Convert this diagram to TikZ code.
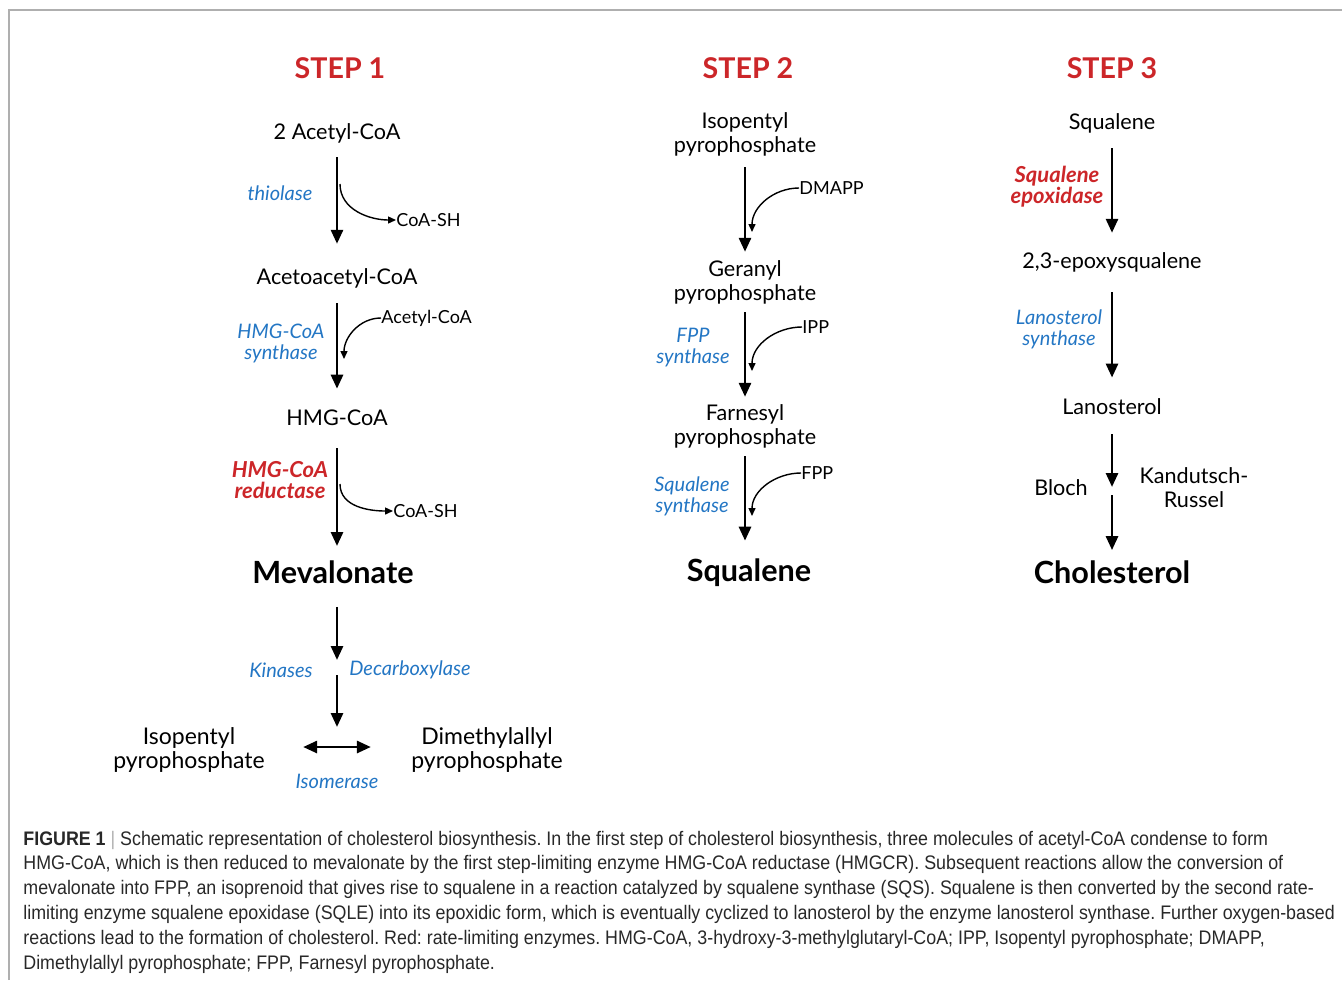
\documentclass[tikz,border=0pt]{standalone}
\usepackage{fontspec}
\setmainfont{Lato}
\newfontfamily\leyendafont[FakeStretch=0.91]{Liberation Sans}
\usepackage{tikz}
\usetikzlibrary{arrows.meta,positioning,calc}

\definecolor{pasored}{RGB}{204,38,41}
\definecolor{enzblue}{RGB}{35,118,196}
\definecolor{marco}{RGB}{175,175,175}
\definecolor{textoley}{RGB}{40,40,40}

\tikzset{
  paso/.style={font=\fontsize{14.3}{16}\selectfont\bfseries, text=pasored, inner sep=0pt},
  mol/.style={font=\fontsize{10.8}{12}\selectfont, align=center, inner sep=0pt},
  prod/.style={font=\fontsize{15.3}{17}\selectfont\bfseries, inner sep=0pt},
  enz/.style={font=\fontsize{10}{10.5}\selectfont\itshape, text=enzblue, align=center, inner sep=0pt},
  enzred/.style={enz, font=\fontsize{11}{10.5}\selectfont\bfseries\itshape, text=pasored},
  lado/.style={font=\fontsize{9}{10}\selectfont, inner sep=0pt},
  flecha/.style={line width=1.4pt, -{Triangle[length=7pt,width=6pt]}},
  lateral/.style={line width=0.7pt, -{Triangle[length=4pt,width=3.5pt]}},
  leyenda/.style={font=\leyendafont\fontsize{9.8}{11}\selectfont\frenchspacing, text=textoley, anchor=west, inner sep=0pt},
}

\begin{document}
\begin{tikzpicture}[x=0.5pt,y=-0.5pt]
    \useasboundingbox (0,0) rectangle (1342,980);
    % Marco de la figura
    \draw[marco, line width=0.8pt] (9,980) -- (9,10) -- (1342,10);

    % Títulos de los pasos
    \foreach \x/\n in {340/1,748/2,1112/3} {
        \node[paso] (paso\n) at (\x,68) {STEP \n};
    }

    % Paso 1: de acetil-CoA a mevalonato
    \node[mol] (acetil) at (337,133) {2 Acetyl-CoA};
    \node[mol] (acetoacetil) at (337,278) {Acetoacetyl-CoA};
    \node[mol] (hmgcoa) at (337,418) {HMG-CoA};
    \node[prod] (mevalonato) at (333,572) {Mevalonate};
    \node[enz] (tiolasa) at (280,193) {thiolase};
    \node[enz] (hmgsint) at (281,343) {HMG-CoA\\synthase};
    \node[enzred] (hmgred) at (280,480) {HMG-CoA\\reductase};
    \node[lado, anchor=west] (coash1) at (396,220) {CoA-SH};
    \node[lado, anchor=west] (acetilb) at (381,318) {Acetyl-CoA};
    \node[lado, anchor=west] (coash2) at (393,511) {CoA-SH};

    \draw[flecha, shorten <=7pt, shorten >=12pt] (acetil) -- (acetoacetil);
    \draw[flecha, shorten <=7.5pt, shorten >=10.5pt] (acetoacetil) -- (hmgcoa);
    \draw[flecha, shorten <=11pt, shorten >=13pt] (hmgcoa) -- (hmgcoa |- mevalonato);

    \coordinate (sal1) at (340,184);
    \coordinate (ent2) at (344,359);
    \coordinate (sal3) at (340,484);
    \draw[lateral] (sal1) to[out=-90,in=180] (coash1.west);
    \draw[lateral] (acetilb.west) to[out=180,in=90] (ent2);
    \draw[lateral] (sal3) to[out=-90,in=180] (coash2.west);

    % Mevalonato a IPP y DMAPP
    \coordinate (corte1) at (337,667);
    \coordinate (fin1) at (337,727);
    \node[enz] (quinasas) at (281,670) {Kinases};
    \node[enz] (descarb) at (410,670) {Decarboxylase};
    \draw[flecha, shorten <=11.5pt, shorten >=3.5pt] (mevalonato.south -| corte1) -- (corte1);
    \draw[flecha, shorten <=4pt] (corte1) -- (fin1);
    \node[mol, font=\fontsize{11.5}{12}\selectfont] (ipp) at (189,750) {Isopentyl\\pyrophosphate};
    \node[mol, font=\fontsize{11.5}{12}\selectfont] (dmapp) at (487,750) {Dimethylallyl\\pyrophosphate};
    \node[enz] (isomerasa) at (337,781) {Isomerase};
    \draw[line width=1.4pt, {Triangle[length=7pt,width=6pt]}-{Triangle[length=7pt,width=6pt]},
          shorten <=19pt, shorten >=20pt] ([yshift=1.5pt]ipp.east) -- ([yshift=1.5pt]dmapp.west);

    % Paso 2: de IPP a escualeno
    \node[mol] (ipp2) at (745,134) {Isopentyl\\pyrophosphate};
    \node[mol] (geranil) at (745,282) {Geranyl\\pyrophosphate};
    \node[mol] (farnesil) at (745,426) {Farnesyl\\pyrophosphate};
    \node[prod] (escualeno) at (749,573) {Squalene};
    \node[enz] (fppsint) at (693,348) {FPP\\synthase};
    \node[enz] (sqsint) at (692,496) {Squalene\\synthase};
    \node[lado, anchor=west] (dmappb) at (799,188) {DMAPP};
    \node[lado, anchor=west] (ippb) at (802,327) {IPP};
    \node[lado, anchor=west] (fppb) at (801,473) {FPP};

    \draw[flecha, shorten <=5.5pt, shorten >=4pt] (ipp2) -- (geranil);
    \draw[flecha, shorten <=4pt, shorten >=3.5pt] (geranil) -- (farnesil);
    \draw[flecha, shorten <=4pt, shorten >=9pt] (farnesil) -- (farnesil |- escualeno.north);

    \coordinate (ent4) at (752,232);
    \coordinate (ent5) at (752,371);
    \coordinate (ent6) at (752,516);
    \draw[lateral] (dmappb.west) to[out=180,in=90] (ent4);
    \draw[lateral] (ippb.west) to[out=180,in=90] (ent5);
    \draw[lateral] (fppb.west) to[out=180,in=90] (ent6);

    % Paso 3: de escualeno a colesterol
    \node[mol] (escualeno3) at (1112,123) {Squalene};
    \node[mol] (epoxi) at (1112,262) {2,3-epoxysqualene};
    \node[mol] (lanosterol) at (1112,407) {Lanosterol};
    \node[prod] (colesterol) at (1112,572) {Cholesterol};
    \node[enzred] (sqle) at (1057,187) {Squalene\\epoxidase};
    \node[enz] (lansint) at (1059,329) {Lanosterol\\synthase};
    \node[mol] (bloch) at (1061,488) {Bloch};
    \node[mol] (kandutsch) at (1194,488) {Kandutsch-\\Russel};

    \draw[flecha, shorten <=7.5pt, shorten >=9.5pt] (escualeno3) -- (epoxi);
    \draw[flecha, shorten <=10pt, shorten >=10.5pt] (epoxi) -- (lanosterol);
    \coordinate (corte3) at (1112,491);
    \draw[flecha, shorten <=9.5pt, shorten >=2pt] (lanosterol) -- (corte3);
    \draw[flecha, shorten <=2pt, shorten >=5pt] (corte3) -- (colesterol);

    % Leyenda
    \foreach \linea [count=\i from 0] in {
        {\textbf{FIGURE 1} {\color{marco}|} Schematic representation of cholesterol biosynthesis. In the first step of cholesterol biosynthesis, three molecules of acetyl-CoA condense to form},
        {HMG-CoA, which is then reduced to mevalonate by the first step-limiting enzyme HMG-CoA reductase (HMGCR). Subsequent reactions allow the conversion of},
        {mevalonate into FPP, an isoprenoid that gives rise to squalene in a reaction catalyzed by squalene synthase (SQS). Squalene is then converted by the second rate-},
        {limiting enzyme squalene epoxidase (SQLE) into its epoxidic form, which is eventually cyclized to lanosterol by the enzyme lanosterol synthase. Further oxygen-based},
        {reactions lead to the formation of cholesterol. Red: rate-limiting enzymes. HMG-CoA, 3-hydroxy-3-methylglutaryl-CoA; IPP, Isopentyl pyrophosphate; DMAPP,},
        {Dimethylallyl pyrophosphate; FPP, Farnesyl pyrophosphate.}} {
        \node[leyenda] (ley\i) at (23,{840+24.8*\i}) {\linea};
    }
\end{tikzpicture}
\end{document}
